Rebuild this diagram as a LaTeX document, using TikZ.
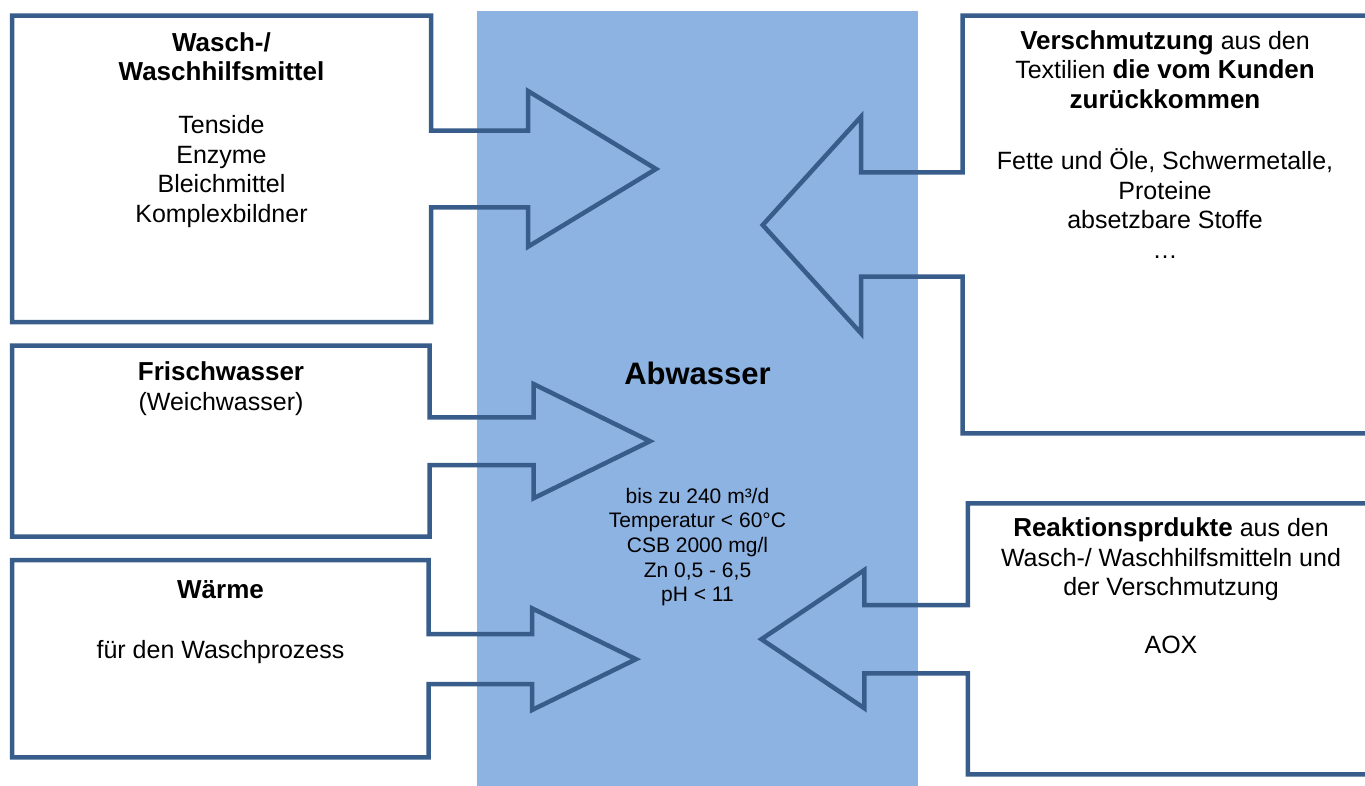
\documentclass[tikz,border=0pt]{standalone}
\usepackage{fontspec}
\setmainfont{Liberation Sans}
\definecolor{waterblue}{HTML}{8DB3E2}
\definecolor{frameblue}{HTML}{385D8A}
\newcommand{\boldpart}[1]{{\fontsize{26}{29.5}\selectfont\bfseries #1}}
\tikzset{outline/.style={draw=frameblue, line width=4.5pt, miter limit=20}}
% base anchor sits on the last line of a node
\tikzset{boxtext/.style={align=center, anchor=base, inner sep=0pt, font=\fontsize{25}{29.5}\selectfont}}

\begin{document}
\begin{tikzpicture}[x=1pt, y=-1pt,
                    valuetext/.style={boxtext, font=\fontsize{21}{24.6}\selectfont}]
    \useasboundingbox (0,0) rectangle (1365,785);
    \clip (0,0) rectangle (1365,785);

    % Abwasser area
    \fill [waterblue] (477,11) rectangle (918,790);

    % Boxes with arrows
    \draw [outline] (431,130.7) -- (431,15.7) -- (12,15.7) -- (12,322) -- (431,322) -- (431,207.3)
        -- (528,207.3) -- (528,246.7) -- (656,169) -- (528,91) -- (528,130.7) -- cycle;
    \draw [outline] (429.5,417.3) -- (429.5,345.7) -- (12,345.7) -- (12,536.7) -- (429.5,536.7) -- (429.5,465)
        -- (533.5,465) -- (533.5,498.3) -- (650,441.2) -- (533.5,384) -- (533.5,417.3) -- cycle;
    \draw [outline] (428.6,634) -- (428.6,560) -- (12,560) -- (12,757.3) -- (428.6,757.3) -- (428.6,684)
        -- (532,684) -- (532,710) -- (636,659.2) -- (532,608.3) -- (532,634) -- cycle;
    \draw [outline] (962.7,172.3) -- (962.7,15.7) -- (1369,15.7) -- (1369,433.3) -- (962.7,433.3) -- (962.7,276.7)
        -- (861,276.7) -- (861,333.3) -- (762.7,225) -- (861,116.7) -- (861,172.3) -- cycle;
    \draw [outline] (967.8,605) -- (967.8,503.3) -- (1376,503.3) -- (1376,774.3) -- (967.8,774.3) -- (967.8,673.3)
        -- (864.4,673.3) -- (864.4,708.3) -- (761.4,639.2) -- (864.4,570) -- (864.4,605) -- cycle;

    % Texts
    \node [boxtext] (wasch) at (221.5,222)
        {\boldpart{Wasch-/}\\ \boldpart{Waschhilfsmittel}\\[23.5pt]
         Tenside\\ Enzyme\\ Bleichmittel\\ Komplexbildner};
    \node [boxtext] (frisch) at (221,410)
        {\boldpart{Frischwasser}\\ (Weichwasser)};
    \node [boxtext] (waerme) at (220.5,658.3)
        {\boldpart{Wärme}\\[30pt] für den Waschprozess};
    \node [boxtext] (schmutz) at (1165,258.3)
        {\boldpart{Verschmutzung} aus den\\ Textilien \boldpart{die vom Kunden}\\ \boldpart{zurückkommen}\\[32pt]
         Fette und Öle, Schwermetalle,\\ Proteine\\ absetzbare Stoffe\\ …};
    \node [boxtext] (reaktion) at (1171,653.3)
        {\boldpart{Reaktionsprdukte} aus den\\ Wasch-/ Waschhilfsmitteln und\\ der Verschmutzung\\[28pt] AOX};
    \node [boxtext, font=\fontsize{31}{36}\selectfont\bfseries] (abwasser) at (697.5,384.3) {Abwasser};
    \node [valuetext] (werte) at (697.5,601.7)
        {bis zu 240 m³/d\\ Temperatur < 60°C\\ CSB 2000 mg/l\\ Zn 0,5 - 6,5\\ pH < 11};
\end{tikzpicture}
\end{document}
